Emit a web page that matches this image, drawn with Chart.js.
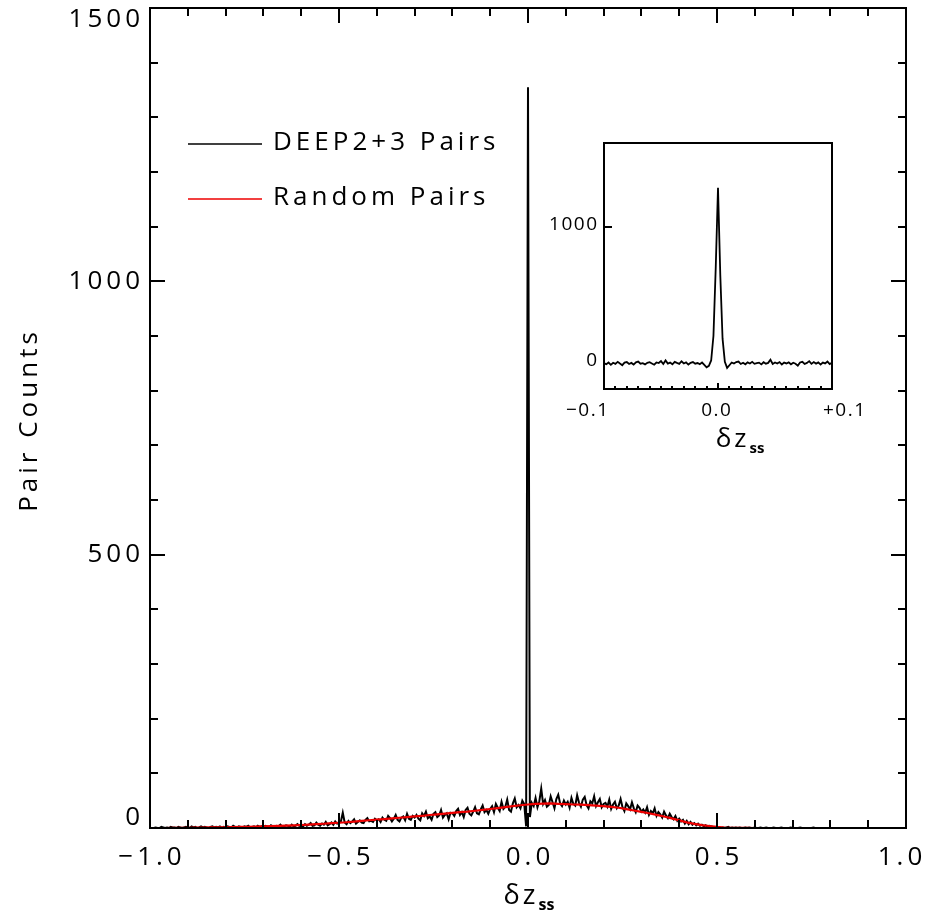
<!DOCTYPE html>
<html><head><meta charset="utf-8">
<script src="https://cdn.jsdelivr.net/npm/chart.js@4/dist/chart.umd.min.js"></script>
<style>
html,body{margin:0;padding:0;background:#fff;}
#wrap{position:relative;width:933px;height:922px;background:#fff;}
canvas{position:absolute;left:0;top:0;}
</style></head><body>
<div id="wrap"><canvas id="main" width="933" height="922"></canvas><canvas id="inset" width="933" height="922"></canvas></div>
<script>
// ---------- data ----------
const pairStart = -1.0, pairStep = 0.005;
const pairCounts = [
0,0,0,1,0,0,2,1,0,1,0,2,1,1,0,2,1,0,1,2,
1,0,3,1,2,0,1,3,1,2,1,0,2,3,1,2,1,3,0,2,
1,3,2,1,4,2,0,3,2,1,3,2,4,1,2,3,1,4,2,3,
2,4,3,1,5,3,2,4,3,6,2,3,5,4,2,6,3,4,7,4,
5,3,7,4,6,9,4,5,10,6,4,8,6,11,5,7,10,6,12,8,
9,12,28,10,7,13,9,12,16,8,11,14,10,9,15,18,12,13,11,17,
14,16,11,19,15,13,22,18,12,17,24,15,12,19,21,14,26,17,15,22,
19,24,17,14,27,22,30,18,21,15,26,29,20,23,33,19,24,27,16,28,
27,22,31,35,24,29,20,33,37,26,23,30,38,27,25,34,41,29,33,26,
35,40,29,44,37,31,48,35,39,52,33,30,45,54,38,42,36,50,44,3,
1355,
20,46,40,55,38,49,72,44,51,39,42,58,47,36,53,61,45,40,50,43,
48,37,55,44,41,60,46,39,52,57,42,36,49,45,58,40,47,53,38,44,
46,39,52,35,43,48,36,41,53,38,31,45,40,34,47,36,29,41,37,30,
34,28,38,24,31,27,36,22,29,25,19,30,23,18,26,20,16,22,13,17,
12,15,8,13,7,11,6,9,5,8,4,6,3,5,2,4,3,2,1,2,
1,0,1,0,1,2,0,1,0,1,0,1,0,0,1,0,1,0,0,1,
0,0,1,0,0,1,0,0,0,1,0,0,0,1,0,0,0,0,1,0,
0,0,0,1,0,0,0,0,0,0,1,0,0,0,0,0,0,0,0,0,
0,0,0,0,0,0,0,0,0,0,0,0,0,0,0,0,0,0,0,0,
0,0,0,0,0,0,0,0,0,0,0,0,0,0,0,0,0,0,0,0
];
const randStart = -1.0, randStep = 0.02;
const randomCounts = [
0,0,0,0.2,0.3,0.5,0.6,0.8,1.0,1.2,
1.4,1.6,1.9,2.2,2.5,2.9,3.3,3.8,4.3,4.9,
5.5,6.2,7.0,7.8,8.8,9.6,10.5,11.6,13.0,14.2,
15.3,16.4,17.6,18.8,20.0,21.1,22.3,23.8,25.0,26.4,
27.5,28.9,30.0,31.6,33.0,34.8,36.5,38.3,40.0,41.6,
43.0,44.0,44.5,45.0,44.3,43.6,43.0,42.8,42.0,41.0,
40.0,38.6,37.0,34.6,32.0,29.5,27.0,24.0,21.0,17.6,
14.0,10.4,7.6,5.4,3.6,2.0,0.9,0.4,0.2,0.1,
0,0,0,0,0,0,0,0,0,0,
0,0,0,0,0,0,0,0,0,0,0
];
const insetStart = -0.1, insetStep = 0.002;
const insetCounts = [
0,-8,5,-12,3,-5,10,-3,-15,4,8,-6,2,-10,6,12,-4,0,-9,3,
7,-2,-11,5,1,15,-6,20,-3,4,-8,10,2,-5,14,-2,6,-10,3,8,
-4,1,-7,5,-12,-30,-20,20,200,700,
1290,
650,180,10,-35,-15,5,-3,8,12,-6,3,-8,6,-2,10,-5,0,4,-9,7,
-4,2,25,-6,5,-3,8,-10,4,-2,6,-8,3,-4,-18,5,10,-6,2,15,
-5,8,-3,6,-10,4,-2,12,-7,3
];
const seriesNames = ['DEEP2+3 Pairs', 'Random Pairs'];
const xTickValues = [-1.0, -0.5, 0.0, 0.5, 1.0];
const xTickLabels = ['\u22121.0', '\u22120.5', '0.0', '0.5', '1.0'];
const yTickValues = [0, 500, 1000, 1500];
const yTickLabels = ['0', '500', '1000', '1500'];
const insetXTickValues = [-0.1, 0.0, 0.1];
const insetXTickLabels = ['\u22120.1', '0.0', '+0.1'];
const insetYTickValues = [0, 1000];
const insetYTickLabels = ['0', '1000'];

// ---------- helpers ----------
const FONT = '"Open Sans", "Lato", "DejaVu Sans", sans-serif';
const W = 400;
function txt(ctx, s, x, y, size, align, spacing, weight, baseline) {
  ctx.save();
  ctx.font = (weight || W) + ' ' + size + 'px ' + FONT;
  try { ctx.letterSpacing = (spacing || 0) + 'px'; } catch (e) {}
  ctx.textBaseline = baseline || 'middle';
  ctx.textAlign = 'left';
  const w = ctx.measureText(s).width - (spacing || 0);
  let lx = x;
  if (align === 'center') lx = x - w / 2;
  else if (align === 'right') lx = x - w;
  ctx.fillStyle = '#000';
  ctx.fillText(s, lx, y);
  ctx.restore();
  return w;
}
function line(ctx, x1, y1, x2, y2) {
  ctx.beginPath(); ctx.moveTo(x1, y1); ctx.lineTo(x2, y2); ctx.stroke();
}
function subTitle(ctx, cx, y, size) {
  // draws "δz" with subscript "ss", centred on cx
  const subSize = Math.round(size * 0.58);
  ctx.save();
  ctx.font = W + ' ' + size + 'px ' + FONT;
  try { ctx.letterSpacing = '3px'; } catch (e) {}
  const w1 = ctx.measureText('\u03b4z').width;
  ctx.font = '700 ' + subSize + 'px ' + FONT;
  try { ctx.letterSpacing = '0px'; } catch (e) {}
  const w2 = ctx.measureText('ss').width;
  ctx.restore();
  const left = cx - (w1 + w2) / 2;
  txt(ctx, '\u03b4z', left, y, size, 'left', 3, W, 'alphabetic');
  txt(ctx, 'ss', left + w1, y + size * 0.22, subSize, 'left', 0, 700, 'alphabetic');
}

const pairPts = pairCounts.map((v, i) => ({ x: +(pairStart + i * pairStep).toFixed(4), y: v }));
const randPts = randomCounts.map((v, i) => ({ x: +(randStart + i * randStep).toFixed(4), y: v }));
const insetPts = insetCounts.map((v, i) => ({ x: +(insetStart + i * insetStep).toFixed(4), y: v }));

// ---------- main chart ----------
const mainFrame = {
  id: 'mainFrame',
  afterDraw(chart) {
    const ctx = chart.ctx, ca = chart.chartArea;
    const xs = chart.scales.x, ys = chart.scales.y;
    ctx.save();
    ctx.strokeStyle = '#000'; ctx.lineWidth = 2; ctx.lineCap = 'butt';
    ctx.strokeRect(ca.left, ca.top, ca.right - ca.left, ca.bottom - ca.top);
    for (let k = 1; k < 15; k++) {
      const v = k * 100, py = Math.round(ys.getPixelForValue(v));
      const len = (v % 500 === 0) ? 15 : 8;
      line(ctx, ca.left, py, ca.left + len, py);
      line(ctx, ca.right, py, ca.right - len, py);
    }
    for (let k = -9; k <= 9; k++) {
      const v = k / 10, px = Math.round(xs.getPixelForValue(v));
      const len = (k % 5 === 0) ? 15 : 8;
      line(ctx, px, ca.bottom, px, ca.bottom - len);
      line(ctx, px, ca.top, px, ca.top + len);
    }
    yTickValues.forEach((v, i) => {
      let py = ys.getPixelForValue(v);
      py = Math.min(Math.max(py, ca.top + 12), ca.bottom - 10);
      txt(ctx, yTickLabels[i], ca.left - 10, py, 26, 'right', 4);
    });
    xTickValues.forEach((v, i) => {
      let px = xs.getPixelForValue(v);
      px = Math.min(px, chart.width - 33);
      txt(ctx, xTickLabels[i], px, ca.bottom + 30, 26, 'center', 4);
    });
    subTitle(ctx, (ca.left + ca.right) / 2 + 1, ca.bottom + 76, 27);
    ctx.save();
    ctx.translate(30, (ca.top + ca.bottom) / 2 + 4);
    ctx.rotate(-Math.PI / 2);
    txt(ctx, 'Pair Counts', 0, 0, 26, 'center', 4);
    ctx.restore();
    const legY = [144, 199], colors = ['#000', '#ee0000'];
    seriesNames.forEach((n, i) => {
      ctx.strokeStyle = colors[i]; ctx.lineWidth = 1.5;
      line(ctx, 188, legY[i], 262, legY[i]);
      txt(ctx, n, 273, legY[i] + 6, 26, 'left', 4, W, 'alphabetic');
    });
    ctx.restore();
  }
};

new Chart(document.getElementById('main'), {
  type: 'line',
  data: {
    datasets: [
      { label: seriesNames[1], data: randPts, borderColor: '#ee0000', borderWidth: 2.2, pointRadius: 0, tension: 0 },
      { label: seriesNames[0], data: pairPts, borderColor: '#000', borderWidth: 2, pointRadius: 0, tension: 0 }
    ]
  },
  options: {
    responsive: false, animation: false, events: [],
    layout: { padding: { left: 150, right: 27, top: 8, bottom: 94 } },
    scales: {
      x: { type: 'linear', min: -1, max: 1, display: false },
      y: { type: 'linear', min: 0, max: 1500, display: false }
    },
    plugins: { legend: { display: false }, tooltip: { enabled: false } }
  },
  plugins: [mainFrame]
});

// ---------- inset chart ----------
const insetFrame = {
  id: 'insetFrame',
  beforeDatasetsDraw(chart) {
    const ctx = chart.ctx, ca = chart.chartArea;
    ctx.save(); ctx.fillStyle = '#fff';
    ctx.fillRect(ca.left, ca.top, ca.right - ca.left, ca.bottom - ca.top);
    ctx.restore();
  },
  afterDraw(chart) {
    const ctx = chart.ctx, ca = chart.chartArea;
    const xs = chart.scales.x, ys = chart.scales.y;
    ctx.save();
    ctx.strokeStyle = '#000'; ctx.lineWidth = 2;
    ctx.strokeRect(ca.left, ca.top, ca.right - ca.left, ca.bottom - ca.top);
    for (let k = -9; k <= 9; k++) {
      const px = Math.round(xs.getPixelForValue(k / 100));
      const len = (k === 0) ? 6 : 3;
      line(ctx, px, ca.bottom, px, ca.bottom - len);
    }
    const p1000 = Math.round(ys.getPixelForValue(1000));
    line(ctx, ca.left, p1000, ca.left + 8, p1000);
    insetYTickValues.forEach((v, i) => {
      txt(ctx, insetYTickLabels[i], ca.left - 7, ys.getPixelForValue(v) - 3, 19, 'right', 1.5, 400);
    });
    const offs = [-17, -2, 12];
    insetXTickValues.forEach((v, i) => {
      txt(ctx, insetXTickLabels[i], xs.getPixelForValue(v) + offs[i], ca.bottom + 22, 19, 'center', 1.5, 400);
    });
    subTitle(ctx, (ca.left + ca.right) / 2 + 22, ca.bottom + 58, 26);
    ctx.restore();
  }
};

new Chart(document.getElementById('inset'), {
  type: 'line',
  data: { datasets: [ { label: 'inset', data: insetPts, borderColor: '#000', borderWidth: 1.8, pointRadius: 0, tension: 0 } ] },
  options: {
    responsive: false, animation: false, events: [],
    layout: { padding: { left: 604, right: 101, top: 143, bottom: 533 } },
    scales: {
      x: { type: 'linear', min: -0.1, max: 0.1, display: false },
      y: { type: 'linear', min: -190, max: 1620, display: false }
    },
    plugins: { legend: { display: false }, tooltip: { enabled: false } }
  },
  plugins: [insetFrame]
});
</script>
</body></html>
